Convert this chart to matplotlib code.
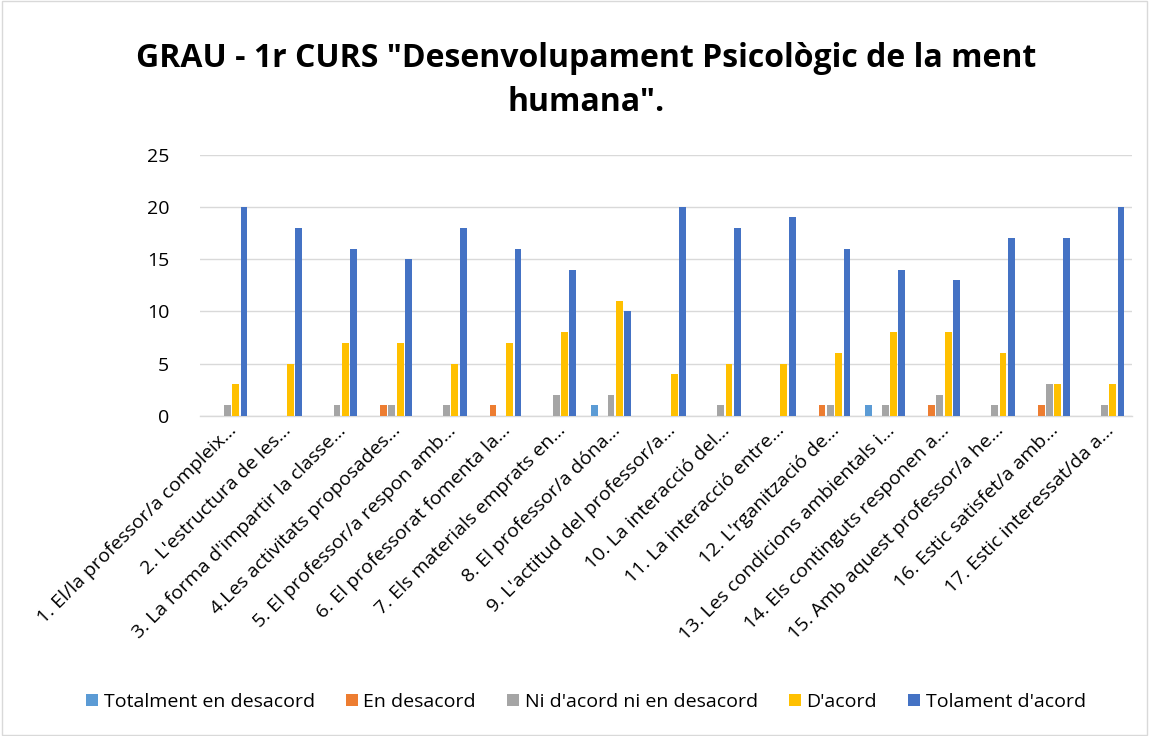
import matplotlib.pyplot as plt
import numpy as np
from matplotlib.patches import Rectangle

plt.rcParams['font.family'] = ['Open Sans', 'DejaVu Sans']

preguntes = [
    "1. El/la professor/a compleix...",
    "2. L'estructura de les...",
    "3. La forma d'impartir la classe...",
    "4.Les activitats proposades...",
    "5. El professor/a respon amb...",
    "6. El professorat fomenta la...",
    "7. Els materials emprats en...",
    "8. El professor/a dóna...",
    "9. L'actitud del professor/a...",
    "10. La interacció del...",
    "11. La interacció entre...",
    "12. L'rganització de...",
    "13. Les condicions ambientals i...",
    "14. Els continguts responen a...",
    "15. Amb aquest professor/a he...",
    "16. Estic satisfet/a amb...",
    "17. Estic interessat/da a...",
]

totalment_desacord = [0, 0, 0, 0, 0, 0, 0, 1, 0, 0, 0, 0, 1, 0, 0, 0, 0]
en_desacord = [0, 0, 0, 1, 0, 1, 0, 0, 0, 0, 0, 1, 0, 1, 0, 1, 0]
ni_ni = [1, 0, 1, 1, 1, 0, 2, 2, 0, 1, 0, 1, 1, 2, 1, 3, 1]
dacord = [3, 5, 7, 7, 5, 7, 8, 11, 4, 5, 5, 6, 8, 8, 6, 3, 3]
totalment_acord = [20, 18, 16, 15, 18, 16, 14, 10, 20, 18, 19, 16, 14, 13, 17, 17, 20]

series = [
    ("Totalment en desacord", totalment_desacord, '#5B9BD5'),
    ("En desacord", en_desacord, '#ED7D31'),
    ("Ni d'acord ni en desacord", ni_ni, '#A5A5A5'),
    ("D'acord", dacord, '#FFC000'),
    ("Tolament d'acord", totalment_acord, '#4472C4'),
]

fig = plt.figure(figsize=(11.49, 7.36), dpi=100)
ax = fig.add_axes([0.174, 0.435, 0.811, 0.355])

x = np.arange(len(preguntes))
step = 0.152
w = 0.125
for i, (nom, vals, col) in enumerate(series):
    ax.bar(x + (i - 2) * step, vals, width=w, color=col, label=nom, zorder=3)

ax.set_xlim(-0.5, len(preguntes) - 0.5)
ax.set_ylim(0, 25)
ax.set_yticks(range(0, 26, 5))
ax.grid(axis='y', color='#D9D9D9', linewidth=1, zorder=0)
for s in ['top', 'right', 'left']:
    ax.spines[s].set_visible(False)
ax.spines['bottom'].set_color('#D9D9D9')
ax.spines['bottom'].set_linewidth(1)
ax.tick_params(axis='both', length=0, labelsize=14)
ax.tick_params(axis='y', pad=22)
ax.tick_params(axis='x', pad=4)
ax.set_xticks(x)
ax.set_xticklabels(preguntes, rotation=45, ha='right', rotation_mode='anchor', fontsize=14)

fig.text(0.51, 0.943, 'GRAU - 1r CURS "Desenvolupament Psicològic de la ment\nhumana".',
         fontsize=23, fontweight='bold', ha='center', va='top', linespacing=1.45)

fig.legend(loc='lower center', ncol=5, frameon=False, fontsize=14,
           bbox_to_anchor=(0.51, 0.01), handlelength=0.6, handleheight=0.6,
           handletextpad=0.3, columnspacing=1.6)

fig.patches.append(Rectangle((0.002, 0.002), 0.996, 0.996, transform=fig.transFigure,
                             fill=False, edgecolor='#D9D9D9', linewidth=1))

fig.savefig('out.png', dpi=100)
